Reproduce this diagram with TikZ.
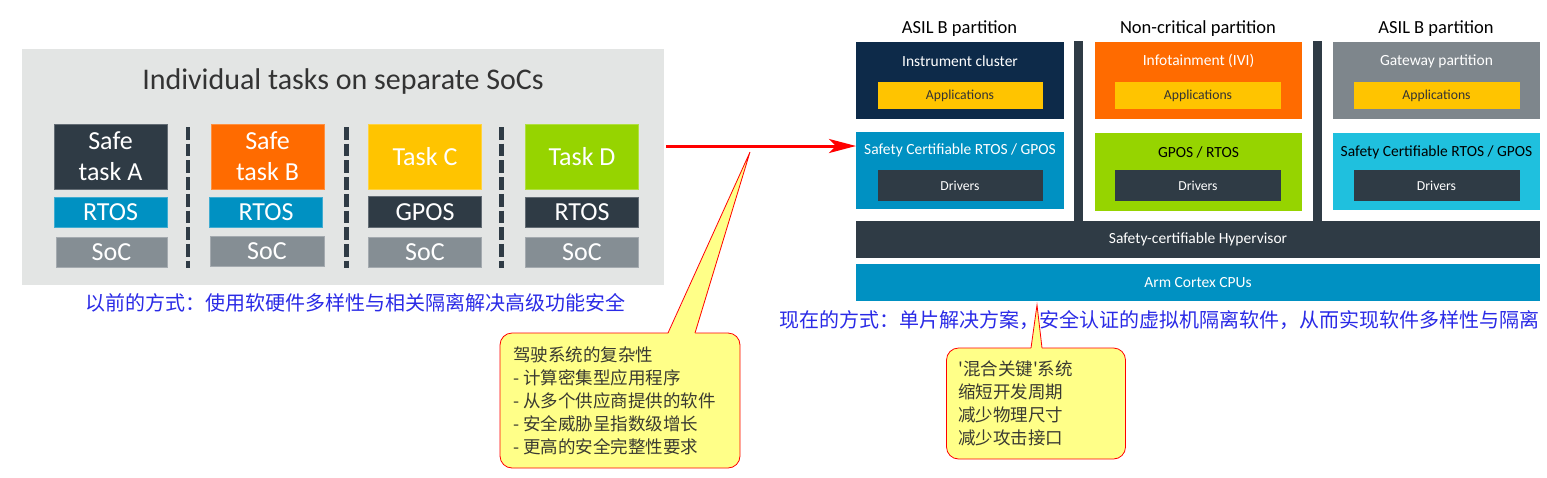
\documentclass[tikz,border=0pt]{standalone}
\usepackage{fontspec}
\setmainfont{Carlito}
\newfontfamily\cjk[Ligatures=TeXOff]{Noto Sans CJK SC}
\usetikzlibrary{arrows.meta,calc}
\definecolor{panelgray}{HTML}{E3E5E4}
\definecolor{slate}{HTML}{2F3B45}
\definecolor{rtosblue}{HTML}{0091C2}
\definecolor{orng}{HTML}{FF6B00}
\definecolor{yell}{HTML}{FFC400}
\definecolor{grn}{HTML}{96D400}
\definecolor{socgray}{HTML}{858E94}
\definecolor{navy}{HTML}{0D2A49}
\definecolor{gwgray}{HTML}{7E868C}
\definecolor{cyanb}{HTML}{1FC0DE}
\definecolor{capblue}{HTML}{2A2AE6}
\definecolor{callfill}{HTML}{FFFF88}
\definecolor{calltext}{HTML}{3A3A32}
\definecolor{titlegray}{HTML}{333333}
\begin{document}
\begin{tikzpicture}[x=1pt,y=-1pt,
  bx/.style 2 args={minimum width=#1pt, minimum height=#2pt, inner sep=0pt, outer sep=0pt},
  fb/.style={fill=#1, draw=#1!75!white, line width=0.8pt},
  lbox/.style={text=white, align=center, font=\fontsize{26}{31}\selectfont},
  rtxt/.style={text=white, font=\fontsize{15.5}{18}\selectfont, inner sep=0pt},
  stxt/.style={font=\fontsize{13.7}{16}\selectfont, inner sep=0pt},
  head/.style={font=\fontsize{18.5}{22}\selectfont, text=black, inner sep=0pt},
  sepdash/.style={line width=4.5pt, draw=slate, dash pattern=on 12.7pt off 4pt},
  capt/.style={font=\cjk, text=capblue, inner sep=0pt},
  callbox/.style={fill=callfill, draw=red, line width=0.8pt, rounded corners=12pt, inner sep=0pt, outer sep=0pt},
  calltxt/.style={font=\cjk\fontsize{17.5}{23}\selectfont, text=calltext, align=left, inner sep=0pt, anchor=west},
  redarrow/.style={draw=red, line width=3pt, -{Stealth[length=27pt, width=14pt, inset=7pt]}}
]
\useasboundingbox (0,0) rectangle (1547,477);

% ---------------- left panel ----------------
\node[fill=panelgray, bx={641.5}{236}] (panel) at (342.75,167) {};
\node[font=\fontsize{30}{36}\selectfont, text=titlegray, inner sep=0pt] (title) at (343,81) {Individual tasks on separate SoCs};

\node[fb=slate, bx={113}{65}, lbox] (ta) at (110.5,156.5) {Safe\\task A};
\node[fb=rtosblue, bx={113}{30}, lbox] (ra) at (110.5,212) {RTOS};
\node[fb=socgray, bx={111}{30}, lbox] (sa) at (111.5,252) {SoC};

\node[fb=orng, bx={113}{65}, lbox] (tb) at (267.5,156.5) {Safe\\task B};
\node[fb=rtosblue, bx={113}{30}, lbox] (rb) at (266,212) {RTOS};
\node[fb=socgray, bx={114}{30}, lbox] (sb) at (267,251) {SoC};

\node[fb=yell, bx={113}{65}, lbox] (tc) at (425,156.5) {Task C};
\node[fb=slate, bx={113}{31}, lbox] (gc) at (425,212) {GPOS};
\node[fb=socgray, bx={113}{30}, lbox] (sc) at (425,252) {SoC};

\node[fb=grn, bx={113}{65}, lbox] (td) at (582,156.5) {Task D};
\node[fb=slate, bx={113}{30}, lbox] (rd) at (582,212) {RTOS};
\node[fb=socgray, bx={113}{30}, lbox] (sd) at (582,252) {SoC};

\draw[sepdash] (188,127) -- (188,268);
\draw[sepdash] (346.5,127) -- (346.5,268);
\draw[sepdash] (501.7,127) -- (501.7,268);

\node[capt, font=\cjk\fontsize{20}{24}\selectfont] (capl) at (355,303) {以前的方式：使用软硬件多样性与相关隔离解决高级功能安全};

% ---------------- right side ----------------
\node[head] (h1) at (959.5,29) {ASIL B partition};
\node[head] (h2) at (1198,29) {Non-critical partition};
\node[head] (h3) at (1436,29) {ASIL B partition};

% column 1
\node[fill=navy, bx={208}{77}] (ic) at (960,80.5) {};
\node[rtxt] (ict) at (960,61) {Instrument cluster};
\node[fill=yell, bx={165}{27}, stxt, text=titlegray] (app1) at (960,95.5) {Applications};
\node[fill=rtosblue, bx={208}{77}] (os1) at (960,170.5) {};
\node[rtxt] (os1t) at (960,150) {Safety Certifiable RTOS / GPOS};
\node[fill=slate, bx={165}{31}, stxt, text=white] (dr1) at (960,185.5) {Drivers};

% column 2
\node[fill=orng, bx={207}{77}] (ivi) at (1198.5,80.5) {};
\node[rtxt] (ivit) at (1198.5,61) {Infotainment (IVI)};
\node[fill=yell, bx={166}{27}, stxt, text=titlegray] (app2) at (1198,95.5) {Applications};
\node[fill=grn, bx={207}{78}] (os2) at (1198.5,172) {};
\node[rtxt, text=black] (os2t) at (1198.5,152) {GPOS / RTOS};
\node[fill=slate, bx={166}{31}, stxt, text=white] (dr2) at (1198,185.5) {Drivers};

% column 3
\node[fill=gwgray, bx={207}{77}] (gw) at (1436.5,80.5) {};
\node[rtxt] (gwt) at (1436.5,61) {Gateway partition};
\node[fill=yell, bx={166}{27}, stxt, text=titlegray] (app3) at (1436.5,95.5) {Applications};
\node[fill=cyanb, bx={207}{77}] (os3) at (1436.5,171.5) {};
\node[rtxt, text=black] (os3t) at (1436.5,152) {Safety Certifiable RTOS / GPOS};
\node[fill=slate, bx={166}{31}, stxt, text=white] (dr3) at (1436.5,185.5) {Drivers};

% separators
\node[fill=slate, bx={9}{180}] (sep1) at (1078.5,131) {};
\node[fill=slate, bx={9}{180}] (sep2) at (1317.8,131) {};

\node[fill=slate, bx={684}{37}, rtxt] (hyp) at (1198,239.5) {Safety-certifiable Hypervisor};
\node[fill=rtosblue, bx={684}{37}, rtxt] (cpu) at (1198,282.5) {Arm Cortex CPUs};

\node[capt, font=\cjk\fontsize{20}{24}\selectfont] (capr) at (1159.5,320) {现在的方式：单片解决方案，安全认证的虚拟机隔离软件，从而实现软件多样性与隔离};

% ---------------- arrow ----------------
\draw[redarrow] (panel.east |- 0,146) ++(2.5,0) -- (os1.west |- 0,146);

% ---------------- callouts ----------------
\node[callbox, bx={240}{135}] (c1) at (620,400.5) {};
\node[calltxt] (c1t) at ($(c1.west)+(13,0)$) {驾驶系统的复杂性\\- 计算密集型应用程序\\- 从多个供应商提供的软件\\- 安全威胁呈指数级增长\\- 更高的安全完整性要求};
\coordinate (p1) at (750,152);
\coordinate (b1a) at ($(c1.north west)+(168,0)$);
\coordinate (b1b) at ($(c1.north west)+(195,0)$);
\fill[callfill] ($(b1a)+(0,1.2)$) -- (p1) -- ($(b1b)+(0,1.2)$) -- cycle;
\draw[red, line width=0.8pt, line join=miter] (b1a) -- (p1) -- (b1b);

\node[callbox, bx={179}{111}] (c2) at (1036,403.5) {};
\node[calltxt] (c2t) at ($(c2.west)+(11.5,0)$) {'混合关键'系统\\缩短开发周期\\减少物理尺寸\\减少攻击接口};
\coordinate (p2) at (1037,305);
\coordinate (b2a) at ($(c2.north west)+(84.5,0)$);
\coordinate (b2b) at ($(c2.north west)+(95.5,0)$);
\fill[callfill] ($(b2a)+(0,1.2)$) -- (p2) -- ($(b2b)+(0,1.2)$) -- cycle;
\draw[red, line width=0.8pt, line join=miter] (b2a) -- (p2) -- (b2b);
\end{tikzpicture}
\end{document}
